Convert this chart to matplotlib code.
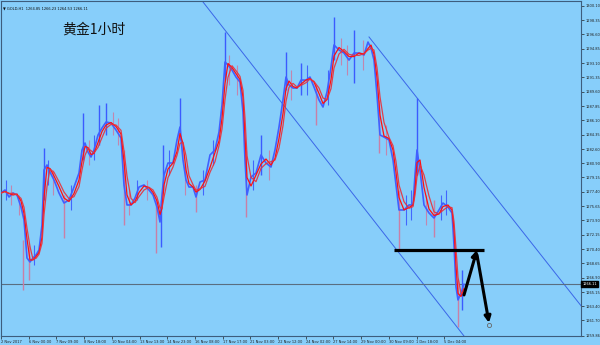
"""
Gold H1 chart redraw: price path with two moving averages, a descending
channel, a support line and the expected bounce / drop arrows.
"""
import numpy as np
import pandas as pd
import matplotlib
matplotlib.use("Agg")
import matplotlib.pyplot as plt
from matplotlib.transforms import blended_transform_factory

# ---- data (x = chart position, price in USD) ----
BAR_X = [0, 4, 8, 12, 16, 20, 23, 26, 29, 32, 35, 38, 41, 43, 46, 49, 53, 58, 63, 68,
         73, 78, 81, 84, 87, 90, 93, 97, 101, 105, 110, 115, 120, 123, 126, 130, 134, 138,
         143, 148, 152, 156, 159, 161, 163, 167, 172, 176, 179, 182, 185, 188, 192, 195,
         199, 204, 209, 214, 218, 221, 224, 227, 231, 235, 239, 242, 244, 246, 250, 255,
         260, 265, 270, 274, 278, 282, 285, 288, 292, 296, 300, 305, 309, 313, 318, 322,
         326, 330, 333, 338, 343, 348, 353, 358, 363, 367, 370, 373, 376, 379, 383, 388,
         392, 395, 398, 403, 408, 412, 414, 416, 419, 423, 428, 433, 438, 442, 447, 451,
         453, 455, 457, 460, 463]
CLOSE = [1277.25, 1277.62, 1276.76, 1277.25, 1277.01, 1275.54, 1273.96, 1269.32, 1268.83,
         1269.32, 1269.69, 1270.30, 1273.35, 1280.06, 1280.67, 1279.81, 1278.84, 1277.25,
         1276.03, 1276.40, 1277.98, 1279.69, 1282.50, 1283.35, 1282.25, 1281.64, 1282.50,
         1284.33, 1285.18, 1285.91, 1285.79, 1284.94, 1283.96, 1278.23, 1275.79, 1275.79,
         1276.64, 1277.98, 1278.23, 1277.62, 1277.01, 1275.54, 1273.71, 1277.01, 1279.45,
         1280.91, 1280.91, 1283.72, 1285.30, 1281.28, 1278.84, 1277.98, 1277.98, 1276.76,
         1278.59, 1278.84, 1281.89, 1282.50, 1284.69, 1287.99, 1293.23, 1292.87, 1292.25,
         1291.40, 1290.79, 1287.13, 1281.28, 1277.01, 1279.20, 1279.69, 1281.89, 1280.91,
         1280.42, 1282.50, 1285.30, 1288.60, 1291.40, 1290.43, 1290.06, 1290.06, 1291.03,
         1291.03, 1291.40, 1290.18, 1288.60, 1287.74, 1289.57, 1292.62, 1295.31, 1294.70,
         1294.33, 1293.47, 1294.33, 1294.33, 1294.09, 1295.67, 1294.94, 1293.47, 1289.20,
         1284.33, 1284.08, 1283.72, 1281.28, 1278.23, 1275.18, 1275.18, 1275.79, 1275.79,
         1279.45, 1282.50, 1280.06, 1275.79, 1274.81, 1274.20, 1275.18, 1276.03, 1275.54,
         1274.81, 1270.91, 1265.78, 1264.20, 1265.05, 1266.11]

# long wicks that stick out of the band: position, high, low
WICK_X = [22, 28, 43, 63, 82, 98, 105, 123, 155, 160, 162, 179, 195, 224, 245, 260, 285,
          300, 315, 333, 353, 378, 398, 416, 433, 457, 461]
WICK_HI = [1271.52, 1270.91, 1282.74, 1277.01, 1287.01, 1287.99, 1288.23, 1282.50,
           1276.40, 1276.40, 1283.11, 1288.84, 1278.23, 1296.89, 1282.50, 1284.33, 1294.45,
           1293.11, 1290.43, 1298.73, 1297.14, 1288.60, 1277.62, 1288.84, 1276.40, 1266.64,
           1267.86]
WICK_LO = [1265.42, 1266.64, 1276.40, 1271.76, 1281.28, 1283.11, 1284.33, 1273.35,
           1269.93, 1270.66, 1277.62, 1283.72, 1274.93, 1291.03, 1274.32, 1279.45, 1289.81,
           1289.20, 1285.55, 1293.47, 1290.67, 1282.13, 1270.30, 1279.45, 1271.88, 1260.90,
           1262.98]

# shorter bars making up the noisy band
BAND_X = [5, 10, 18, 33, 47, 52, 70, 88, 93, 112, 117, 128, 136, 146, 168, 184, 202,
          212, 228, 236, 252, 268, 290, 306, 327, 340, 346, 362, 385, 405, 410, 425,
          440, 445]
BAND_HI = [1278.84, 1278.23, 1277.01, 1270.91, 1281.28, 1280.06, 1278.23, 1283.72,
           1284.33, 1287.13, 1286.40, 1277.62, 1278.84, 1278.84, 1282.50, 1280.67,
           1280.06, 1283.72, 1294.09, 1292.87, 1281.28, 1282.50, 1292.25, 1292.87,
           1292.25, 1296.16, 1295.31, 1295.92, 1285.55, 1277.01, 1277.62, 1277.01,
           1277.01, 1277.62]
BAND_LO = [1276.40, 1275.79, 1274.57, 1268.47, 1278.23, 1277.01, 1275.18, 1280.67,
           1281.28, 1284.33, 1283.11, 1274.57, 1276.40, 1276.40, 1279.45, 1277.01,
           1277.01, 1280.67, 1290.43, 1289.20, 1277.62, 1278.84, 1288.60, 1289.20,
           1287.99, 1292.87, 1291.65, 1292.25, 1281.89, 1273.35, 1273.96, 1273.35,
           1273.96, 1274.57]

Y_TICKS = [1300.10, 1298.35, 1296.60, 1294.85, 1293.10, 1291.35, 1289.60, 1287.85,
           1286.10, 1284.35, 1282.60, 1280.90, 1279.15, 1277.40, 1275.65, 1273.90,
           1272.15, 1270.40, 1268.65, 1266.90, 1265.15, 1263.40, 1261.70, 1259.86]
X_LABELS = ["2 Nov 2017", "6 Nov 00:00", "7 Nov 09:00", "8 Nov 18:00", "10 Nov 04:00",
            "13 Nov 13:00", "14 Nov 23:00", "16 Nov 08:00", "17 Nov 17:00", "21 Nov 03:00",
            "22 Nov 12:00", "24 Nov 02:00", "27 Nov 14:00", "29 Nov 00:00", "30 Nov 09:00",
            "1 Dec 18:00", "5 Dec 04:00"]
LAST_PRICE = 1266.11
HEADER = "\u25bc GOLD,H1  1264.85 1266.23 1264.53 1266.11"
TITLE = "黄金1小时"

# drawn objects (chart position, price)
LOWER_CH = ([202, 463], [1300.56, 1259.80])
UPPER_CH = ([368, 581], [1296.29, 1263.34])
SUPPORT = ([393, 483], [1270.30, 1270.30])
UP_ARROW = ((463, 1264.81), (476, 1270.30))
DOWN_ARROW = ((476, 1269.69), (488, 1261.40))

BG = "#87cefa"
FRAME = "#3d5d7d"
BLUE = "#3b5bff"
PINK = "#c97fa6"
TICK_STEP = 27.7
FS = 2.6


def bar_colors(xs, x, close):
    # blue where price was rising at that spot, pinkish where falling
    slope = np.interp(xs, x, close.diff().fillna(0).values)
    return np.where(slope >= 0, BLUE, PINK)


def main():
    fig = plt.figure(figsize=(6.0, 3.45), dpi=100, facecolor=BG)
    ax = fig.add_axes([1 / 600, 9 / 345, 580 / 600, 335 / 345], facecolor=BG)

    x = np.array(BAR_X, float)
    close = pd.Series(CLOSE)

    ax.vlines(BAND_X, BAND_LO, BAND_HI, colors=bar_colors(BAND_X, x, close),
              lw=0.8, alpha=0.9, zorder=2)
    ax.vlines(WICK_X, WICK_LO, WICK_HI, colors=bar_colors(WICK_X, x, close),
              lw=1.0, zorder=2)

    ax.plot(x, close, color="#4060ff", lw=1.2, zorder=3)
    ax.plot(x, close.rolling(2, min_periods=1).mean(), color="#ff1010", lw=0.9, zorder=4)
    ax.plot(x, close.rolling(3, min_periods=1).mean(), color="#e8303a", lw=0.9,
            alpha=0.9, zorder=4)

    # channel + current price line
    ax.plot(*LOWER_CH, color="#3a66e8", lw=0.7, zorder=1)
    ax.plot(*UPPER_CH, color="#3a66e8", lw=0.7, zorder=1)
    ax.axhline(LAST_PRICE, color="#5a6e80", lw=0.8, zorder=1)

    # support line and expected path
    ax.plot(*SUPPORT, color="black", lw=2.3, solid_capstyle="butt", zorder=5)
    for a, b in (UP_ARROW, DOWN_ARROW):
        ax.annotate("", xy=b, xytext=a, zorder=6,
                    arrowprops=dict(arrowstyle="-|>", color="black", lw=2.2,
                                    mutation_scale=9, shrinkA=0, shrinkB=0))
    ax.plot([DOWN_ARROW[1][0]], [DOWN_ARROW[1][1] - 0.2], "o", ms=3, mfc="none",
            mec="#666666", mew=0.6, zorder=7)

    ax.set_xlim(0, 580)
    ax.set_ylim(1259.80, 1300.68)

    # price scale on the right
    ax.yaxis.tick_right()
    ax.set_yticks(Y_TICKS)
    ax.set_yticklabels(["%.2f" % v for v in Y_TICKS])
    ax.tick_params(axis="y", length=2, width=0.5, pad=1, labelsize=FS, colors="#222222")
    ax.set_xticks(np.arange(len(X_LABELS)) * TICK_STEP)
    ax.set_xticklabels(X_LABELS, ha="left")
    ax.tick_params(axis="x", length=2, width=0.5, pad=1, labelsize=FS, colors="#222222")
    for s in ax.spines.values():
        s.set_color(FRAME)
        s.set_linewidth(0.8)

    tr = blended_transform_factory(ax.transAxes, ax.transData)
    ax.text(1.002, LAST_PRICE, "%.2f" % LAST_PRICE, transform=tr, fontsize=FS,
            color="white", va="center", ha="left",
            bbox=dict(facecolor="black", edgecolor="black", pad=0.6))

    ax.text(0.004, 0.985, HEADER, transform=ax.transAxes, fontsize=FS, va="top",
            color="#111111")
    fig.text(62 / 600, 1 - 30 / 345, TITLE, fontsize=10, va="center", ha="left",
             family=["Noto Sans CJK SC", "DejaVu Sans"], weight="medium", color="#111111")

    fig.savefig("out.png", dpi=100, facecolor=BG)


if __name__ == "__main__":
    main()
